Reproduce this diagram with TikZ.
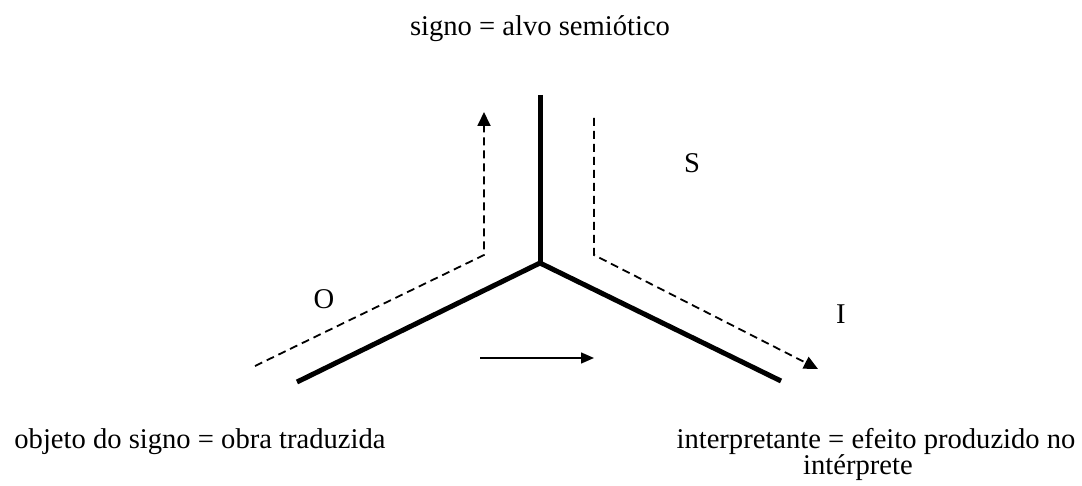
\documentclass[tikz,border=0pt]{standalone}
\usepackage{fontspec}
\setmainfont{Liberation Serif}
\usetikzlibrary{arrows.meta}
\tikzset{
  leg/.style={line width=5pt},
  trace/.style={line width=1.8pt,dash pattern=on 8pt off 5pt},
  lbl/.style={font=\fontsize{28.6}{32}\selectfont,inner sep=0pt}
}
\begin{document}
\begin{tikzpicture}[x=1pt,y=-1pt]
\useasboundingbox (0,0) rectangle (1082,486);

\coordinate (c) at (540,263);
\coordinate (top) at (540,95);
\coordinate (lft) at (297,382);
\coordinate (rgt) at (781,381);
\draw[leg] (top) -- (c);
\draw[leg] (c) -- (lft);
\draw[leg] (c) -- (rgt);

\coordinate (o1) at (255,366);
\coordinate (o2) at (484,255);
\coordinate (o3) at (484,112);
\draw[trace,-{Triangle[length=14pt,width=13pt]}] (o1) -- (o2) -- (o3);

\coordinate (s1) at (594,118);
\coordinate (s2) at (594,255);
\coordinate (s3) at (818,369);
\draw[trace,-{Triangle[length=14pt,width=13pt]}] (s1) -- (s2) -- (s3);

\coordinate (a1) at (480,358);
\coordinate (a2) at (594,358);
\draw[line width=1.5pt,-{Triangle[length=13pt,width=11pt]}] (a1) -- (a2);

\node[lbl] (S) at (692,163) {S};
\node[lbl] (O) at (324,299) {O};
\node[lbl] (I) at (841,314) {I};

\node[lbl,anchor=base] (signo) at (540,36) {signo = alvo semiótico};
\node[lbl,anchor=base] (objeto) at (200,448) {objeto do signo = obra traduzida};
\node[lbl,anchor=base] (interp) at (876,448) {interpretante = efeito produzido no};
\node[lbl,anchor=base] (interp2) at (858,474) {intérprete};
\end{tikzpicture}
\end{document}
